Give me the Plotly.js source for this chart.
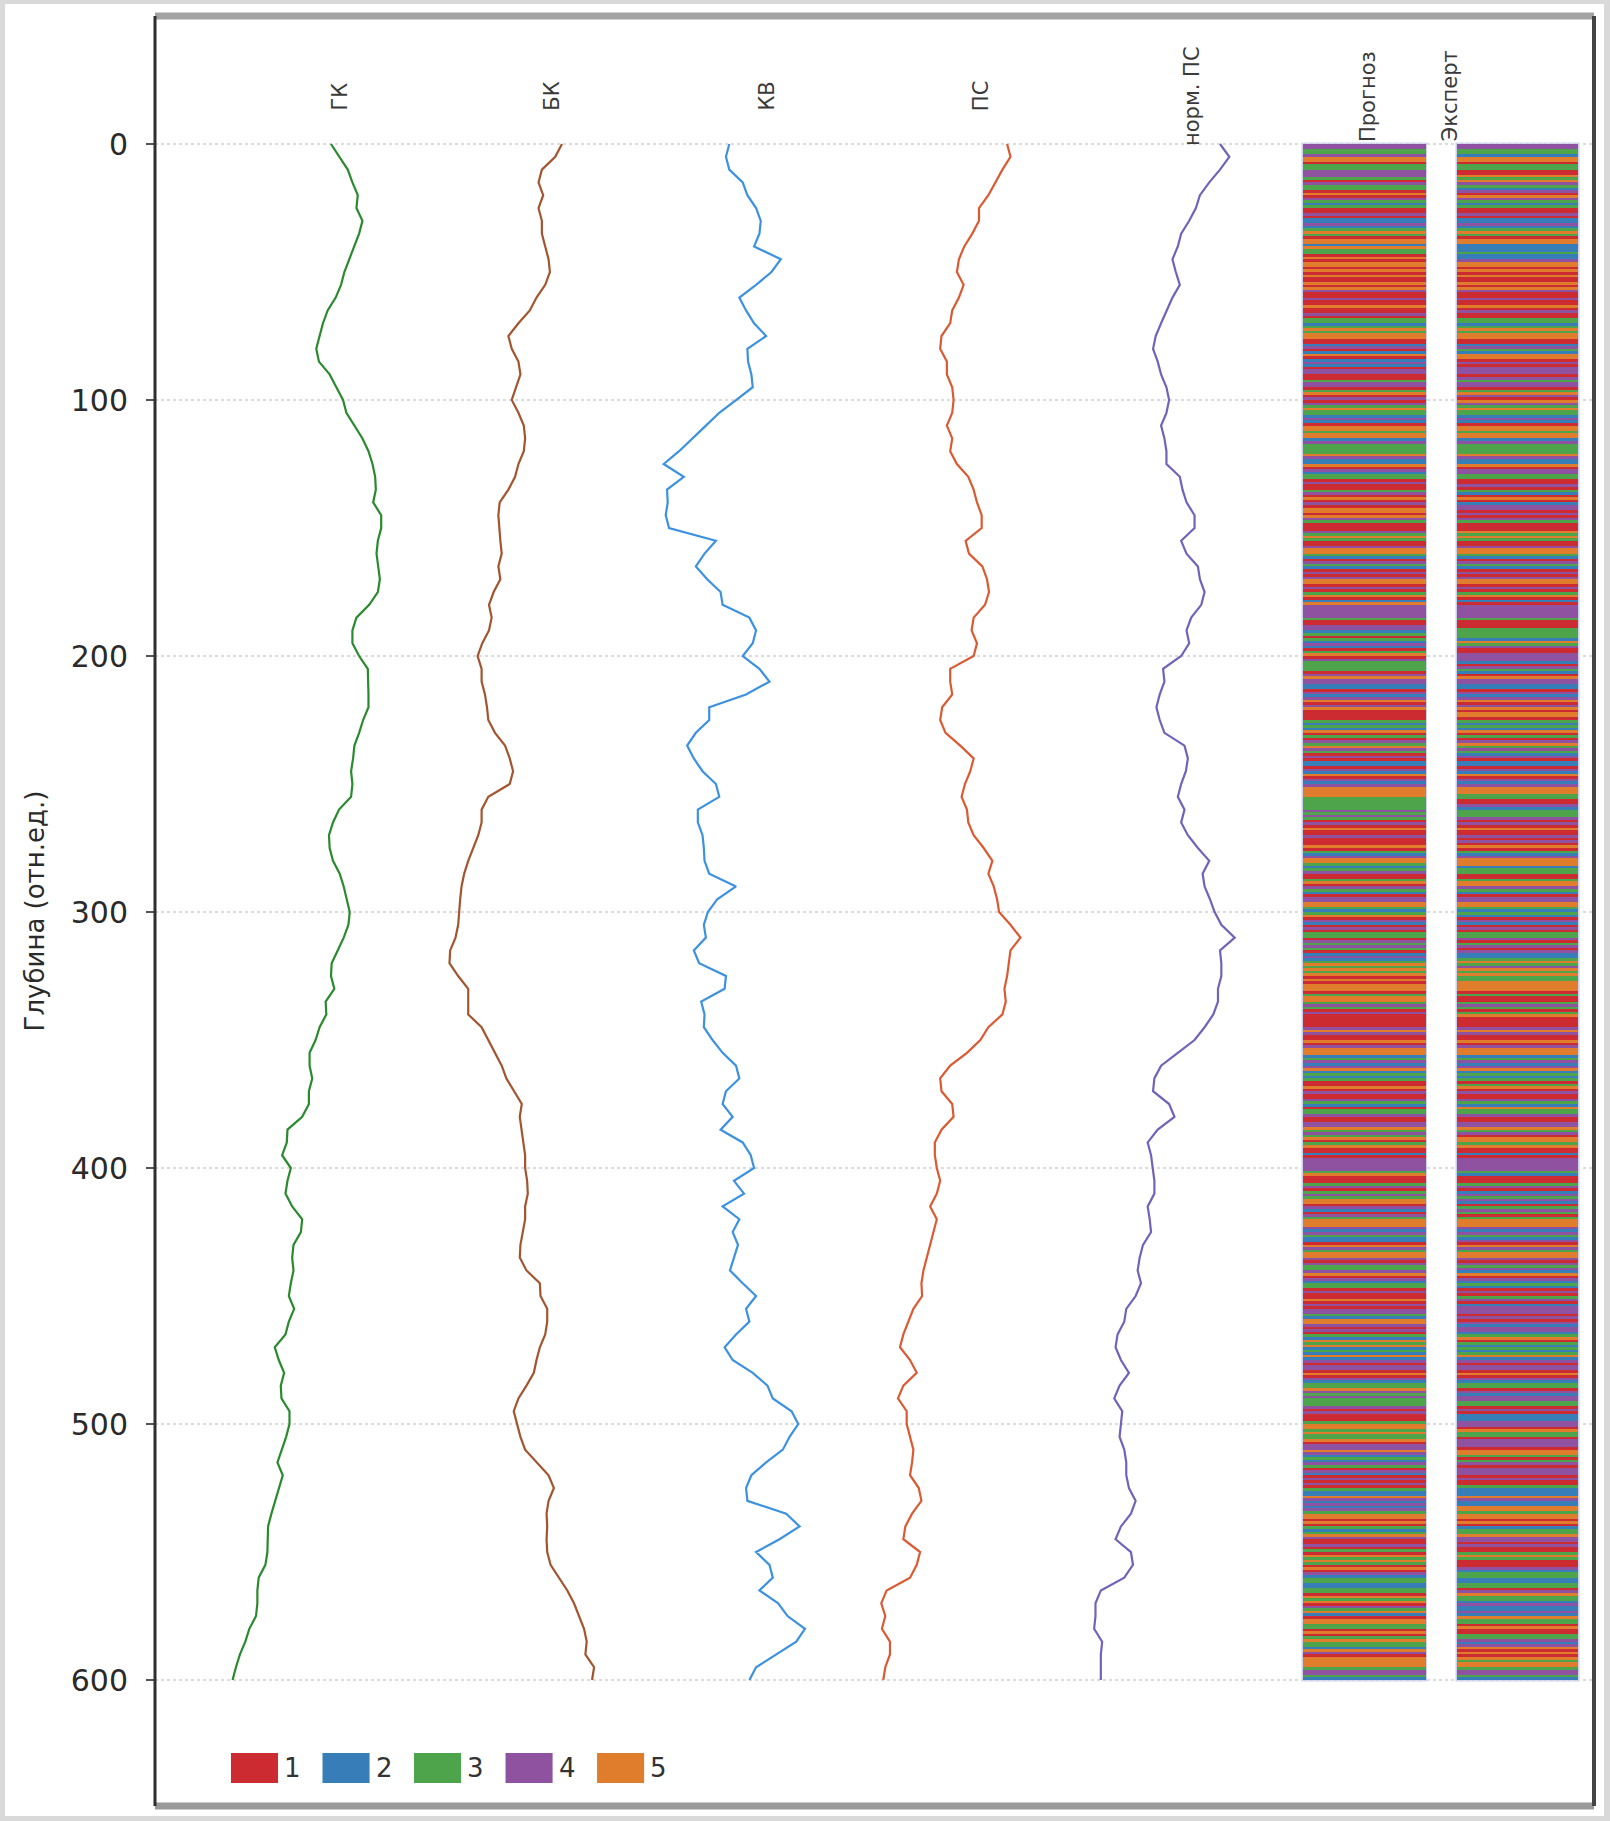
<!DOCTYPE html>
<html>
<head>
<meta charset="utf-8">
<script src="https://cdn.plot.ly/plotly-3.0.1.min.js"></script>
<style>
html,body{margin:0;padding:0;background:#d9d9d9;width:1610px;height:1821px;overflow:hidden;}
#wrap{position:absolute;left:5px;top:4px;width:1599px;height:1812px;background:#ffffff;}
#chart{width:1599px;height:1812px;}
</style>
</head>
<body>
<div id="wrap"><div id="chart"></div></div>
<script>
// ---------------- DATA ----------------
const depths = [0,5,10,15,20,25,30,35,40,45,50,55,60,65,70,75,80,85,90,95,100,105,110,115,120,
125,130,135,140,145,150,155,160,165,170,175,180,185,190,195,200,205,210,215,220,225,230,235,240,245,
250,255,260,265,270,275,280,285,290,295,300,305,310,315,320,325,330,335,340,345,350,355,360,365,370,
375,380,385,390,395,400,405,410,415,420,425,430,435,440,445,450,455,460,465,470,475,480,485,490,495,
500,505,510,515,520,525,530,535,540,545,550,555,560,565,570,575,580,585,590,595,600];

const trackNames = ["ГК", "БК", "КВ", "ПС", "норм. ПС"];

const gk = [1.80,1.93,2.05,2.12,2.20,2.18,2.27,2.22,2.15,2.07,2.00,1.95,1.87,1.75,1.68,1.63,1.58,1.62,1.78,1.88,1.98,2.03,2.15,2.27,2.36,
2.42,2.46,2.47,2.43,2.55,2.55,2.50,2.48,2.50,2.53,2.50,2.37,2.18,2.12,2.12,2.22,2.35,2.36,2.36,2.36,2.28,2.22,2.15,2.13,2.10,
2.12,2.10,1.92,1.83,1.77,1.78,1.83,1.93,1.99,2.03,2.08,2.06,1.99,1.90,1.81,1.80,1.85,1.72,1.73,1.63,1.57,1.48,1.48,1.52,1.47,
1.47,1.37,1.15,1.14,1.07,1.20,1.15,1.12,1.22,1.37,1.35,1.24,1.22,1.24,1.20,1.17,1.25,1.17,1.12,0.96,1.02,1.10,1.05,1.06,1.18,
1.18,1.13,1.07,1.00,1.08,1.02,0.96,0.91,0.86,0.85,0.85,0.82,0.72,0.70,0.70,0.68,0.58,0.52,0.44,0.38,0.33];

const bk = [5.25,5.15,4.95,4.90,4.97,4.90,4.95,4.95,5.00,5.05,5.07,5.00,4.87,4.77,4.60,4.45,4.50,4.60,4.63,4.57,4.50,4.60,4.68,4.70,4.68,
4.60,4.55,4.45,4.32,4.30,4.31,4.33,4.35,4.30,4.33,4.23,4.16,4.20,4.16,4.06,3.99,4.05,4.05,4.10,4.13,4.15,4.25,4.40,4.47,4.52,
4.47,4.15,4.05,4.05,4.00,3.92,3.85,3.79,3.75,3.73,3.72,3.70,3.66,3.58,3.57,3.70,3.85,3.85,3.85,4.05,4.15,4.25,4.35,4.42,4.53,
4.65,4.62,4.65,4.67,4.70,4.70,4.73,4.74,4.70,4.70,4.67,4.63,4.62,4.72,4.92,4.93,5.03,5.03,5.00,4.92,4.87,4.83,4.72,4.60,4.53,
4.58,4.63,4.70,4.87,5.05,5.13,5.05,5.02,5.03,5.02,5.03,5.08,5.20,5.33,5.43,5.50,5.58,5.62,5.60,5.73,5.70];

const kv = [7.75,7.70,7.75,7.95,8.02,8.15,8.22,8.20,8.12,8.52,8.38,8.15,7.90,8.00,8.12,8.30,8.02,8.03,8.08,8.10,7.85,7.60,7.40,7.20,7.00,
6.77,7.07,6.82,6.83,6.80,6.85,7.55,7.38,7.25,7.42,7.62,7.65,8.05,8.15,8.10,7.95,8.20,8.35,8.00,7.45,7.45,7.25,7.12,7.22,7.35,
7.55,7.60,7.28,7.28,7.35,7.37,7.38,7.45,7.85,7.57,7.43,7.37,7.40,7.22,7.30,7.70,7.68,7.33,7.38,7.37,7.50,7.65,7.85,7.90,7.70,
7.65,7.80,7.62,7.95,8.07,8.12,7.82,7.97,7.65,7.90,7.80,7.88,7.82,7.76,7.95,8.15,8.00,8.05,7.85,7.68,7.80,8.10,8.32,8.40,8.68,
8.78,8.65,8.55,8.30,8.08,8.00,8.02,8.60,8.80,8.50,8.15,8.35,8.40,8.20,8.48,8.62,8.88,8.75,8.45,8.15,8.05];

const ps = [11.90,11.95,11.83,11.73,11.62,11.48,11.48,11.38,11.26,11.18,11.15,11.25,11.18,11.08,11.05,10.92,10.90,11.00,11.00,11.08,11.10,11.08,11.00,11.08,11.05,
11.15,11.32,11.40,11.45,11.52,11.52,11.28,11.33,11.53,11.60,11.63,11.57,11.40,11.37,11.45,11.40,11.05,11.05,11.08,10.93,10.90,10.98,11.20,11.40,11.35,
11.27,11.22,11.30,11.32,11.40,11.55,11.68,11.62,11.70,11.75,11.78,11.95,12.10,11.95,11.93,11.90,11.86,11.88,11.83,11.62,11.50,11.30,11.05,10.90,10.92,
11.08,11.10,10.92,10.82,10.82,10.85,10.90,10.85,10.75,10.85,10.80,10.75,10.70,10.65,10.62,10.63,10.50,10.42,10.35,10.30,10.45,10.55,10.35,10.27,10.40,
10.40,10.45,10.50,10.48,10.45,10.58,10.62,10.48,10.38,10.35,10.60,10.55,10.45,10.10,10.02,10.08,10.03,10.15,10.15,10.08,10.05];

const psNorm = [15.08,15.22,15.08,14.92,14.78,14.72,14.62,14.50,14.45,14.37,14.42,14.48,14.37,14.28,14.20,14.12,14.08,14.15,14.20,14.28,14.32,14.28,14.20,14.25,14.28,
14.28,14.48,14.52,14.58,14.70,14.70,14.50,14.58,14.75,14.78,14.85,14.80,14.65,14.58,14.62,14.50,14.23,14.25,14.18,14.13,14.18,14.25,14.55,14.60,14.57,
14.50,14.45,14.55,14.50,14.60,14.75,14.92,14.82,14.85,14.93,15.00,15.10,15.30,15.08,15.10,15.10,15.05,15.05,14.98,14.85,14.70,14.45,14.20,14.10,14.08,
14.32,14.40,14.15,14.00,14.05,14.08,14.10,14.10,14.00,14.03,14.05,13.93,13.88,13.85,13.90,13.82,13.68,13.65,13.55,13.52,13.60,13.72,13.58,13.50,13.62,
13.60,13.58,13.65,13.68,13.68,13.72,13.82,13.75,13.60,13.52,13.75,13.78,13.65,13.30,13.22,13.22,13.20,13.32,13.30,13.30,13.30];

// facies class per depth unit (0..599), one digit per unit
const forecastClasses = [
"4433455133 4443143315 1432311412 2423531552 5331515515 1511515411 4115114133 2353551124 1251242144 1134413514",
"1435332421 5535524333 3542251423 3141134151 4155154311 1435311455 3214321414 5514135125 4444431144 2313242135",
"1433331454 4221424514 5111132325 1314354314 1221425142 4555533333 4343141511 4111513245 5323411351 4321445532",
"3514214133 1434312423 5353515155 5135534314 1111145411 5145552342 4523231151 4114321334 1144534351 3511214444",
"4351113413 4355142143 5554243221 5435541433 4514233141 1514144325 5414132535 2325241441 5142335434 3334141113",
"5535335144 5423243142 1414132254 2424355151 3235411413 1535315142 3322331535 1435215533 1513533254 1555534432"
];
const expertClasses = [
"4433255133 1153543241 5432311412 2423531552 2232245515 1511515411 4115141133 2353551124 3255141444 1434413541",
"5435332421 5535524333 3542251443 3114132151 2441414311 1535311455 3214321414 5514135121 4444431113 3332534114",
"4421432154 4221424514 5155132325 1314534324 1221425142 4555331142 3334141511 4141513245 5523311355 4321445532",
"3214214133 4134142235 3453533555 5131134313 5111145411 5145552342 4523231351 4114325334 1144534155 3511214444",
"4321113412 4342134313 5554243241 5435541434 2514232141 3412444141 4244235132 3235241441 5142331424 4331412224",
"4153314441 5531341444 1411322254 2255355151 2335441411 3531114233 2233145332 4224253315 1133424515 1535534432"
];

const classLabels = ["1", "2", "3", "4", "5"];
const classColors = ["#cc2b31", "#377eb9", "#4ea44a", "#8f52a0", "#e07d2c"];
const columnNames = ["Прогноз", "Эксперт"];

// ---------------- STYLE / POSITIONS ----------------
const curveColors = ["#2a8a2e", "#a3552f", "#3c91e0", "#dc5a32", "#7262bb"];
const labelX = [1.94, 5.11, 8.32, 11.51, 14.66, 17.29, 18.52];
const columnCenter = [17.235, 19.525];
const columnWidth = [1.83, 1.81];

function parseClasses(rows) {
  const s = rows.join("").replace(/\s+/g, "");
  return s.split("").slice(0, 600).map(Number);
}

const curveData = [gk, bk, kv, ps, psNorm];
const traces = [];

curveData.forEach(function (vals, i) {
  traces.push({
    type: "scatter", mode: "lines",
    x: vals, y: depths.slice(0, vals.length),
    name: trackNames[i],
    line: { color: curveColors[i], width: 2.2 },
    showlegend: false, hoverinfo: "skip"
  });
});

// discrete colorscale for classes 1..5
const cs = [];
classColors.forEach(function (c, k) {
  cs.push([k / 5, c]);
  cs.push([(k + 1) / 5, c]);
});

[forecastClasses, expertClasses].forEach(function (rows, j) {
  const cls = parseClasses(rows);
  traces.push({
    type: "heatmap",
    z: cls.map(function (v) { return [v]; }),
    x0: columnCenter[j], dx: columnWidth[j],
    y0: 0.5, dy: 1,
    zmin: 0.5, zmax: 5.5,
    colorscale: cs, showscale: false, zsmooth: false,
    name: columnNames[j], hoverinfo: "skip"
  });
});

// ---------------- LAYOUT ----------------
const allLabels = trackNames.concat(columnNames);
const annotations = allLabels.map(function (t, i) {
  return {
    text: t, x: labelX[i], y: -18.7, xref: "x", yref: "y",
    textangle: -90, showarrow: false, xanchor: "center", yanchor: "middle",
    font: { family: "DejaVu Sans", size: 21, color: "#3a3a3a" }
  };
});

const shapes = [];
// light edge around the class columns
columnCenter.forEach(function (c, j) {
  shapes.push({
    type: "rect", xref: "x", yref: "y", layer: "below",
    x0: c - columnWidth[j] / 2, x1: c + columnWidth[j] / 2, y0: 0, y1: 600,
    line: { color: "rgba(170,180,225,0.6)", width: 3 }, fillcolor: "rgba(0,0,0,0)"
  });
});

// manual legend (large swatches)
const legX0 = [0.0528, 0.1164, 0.1800, 0.2436, 0.3072];
const legW = 0.0327;
classLabels.forEach(function (lab, k) {
  shapes.push({
    type: "rect", xref: "paper", yref: "paper",
    x0: legX0[k], x1: legX0[k] + legW, y0: 0.0128, y1: 0.0296,
    fillcolor: classColors[k], line: { width: 0 }
  });
  annotations.push({
    text: lab, xref: "paper", yref: "paper",
    x: legX0[k] + legW + 0.003, y: 0.0212, xanchor: "left", yanchor: "middle",
    showarrow: false, font: { family: "DejaVu Sans", size: 26, color: "#333333" }
  });
});

// spines
shapes.push({ type: "line", xref: "paper", yref: "paper", x0: 0, x1: 1, y0: 1, y1: 1, line: { color: "#a3a3a3", width: 7 } });
shapes.push({ type: "line", xref: "paper", yref: "paper", x0: 0, x1: 1, y0: 0, y1: 0, line: { color: "#9a9a9a", width: 7 } });
shapes.push({ type: "line", xref: "paper", yref: "paper", x0: 0, x1: 0, y0: 0, y1: 1, line: { color: "#2e2e2e", width: 3 } });
shapes.push({ type: "line", xref: "paper", yref: "paper", x0: 1, x1: 1, y0: 0, y1: 1, line: { color: "#444444", width: 4 } });

const layout = {
  width: 1599, height: 1812,
  margin: { l: 150, r: 10, t: 12, b: 10, pad: 0 },
  paper_bgcolor: "#ffffff", plot_bgcolor: "#ffffff",
  showlegend: false,
  font: { family: "DejaVu Sans", color: "#2a2a2a" },
  xaxis: {
    range: [-0.829, 20.667], showgrid: false, zeroline: false,
    showticklabels: false, ticks: "", showline: false, fixedrange: true
  },
  yaxis: {
    range: [649.2, -50], tick0: 0, dtick: 100,
    showgrid: true, gridcolor: "#dcdcdc", gridwidth: 2, griddash: "dot",
    zeroline: false, showline: false,
    ticks: "outside", ticklen: 8, tickwidth: 2, tickcolor: "#555555",
    ticklabelstandoff: 12,
    tickfont: { family: "DejaVu Sans", size: 30, color: "#2a2a2a" },
    title: { text: "Глубина (отн.ед.)", standoff: 18,
             font: { family: "DejaVu Sans", size: 26, color: "#2a2a2a" } }
  },
  annotations: annotations,
  shapes: shapes
};

Plotly.newPlot("chart", traces, layout, { displayModeBar: false, staticPlot: true });
</script>
</body>
</html>
